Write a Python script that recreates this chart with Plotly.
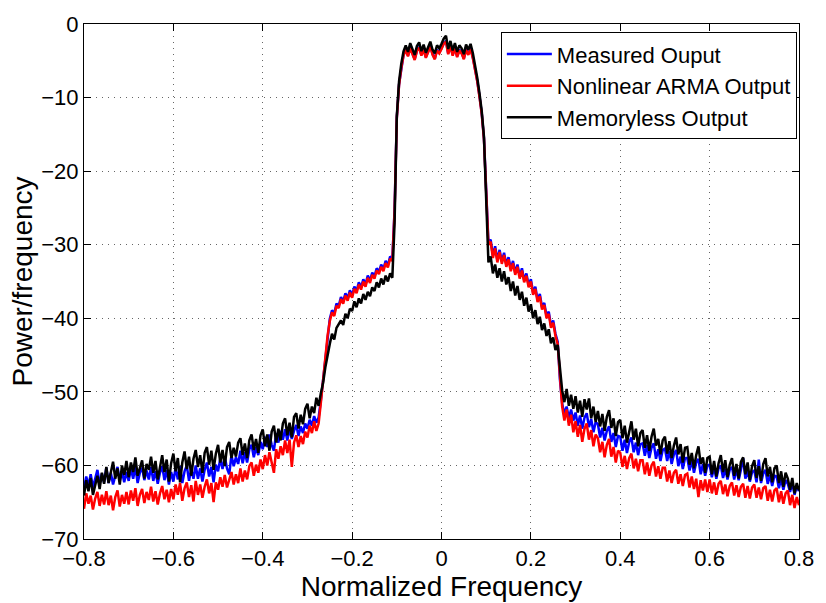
import numpy as np
import plotly.graph_objects as go

# Frequency grid: -0.8 .. 0.8 in steps of 0.005 (321 samples)
freq_start, freq_step, n_pts = -0.8, 0.005, 321
freq = np.round(freq_start + freq_step * np.arange(n_pts), 4)

# Values (dB), one row per 0.05 of frequency
memoryless = [
    -64.1, -62.0, -63.5, -61.7, -64.0, -62.6, -61.4, -63.2, -61.0, -62.5,
    -60.2, -62.4, -60.9, -59.5, -61.8, -60.4, -62.6, -60.0, -61.3, -59.4,
    -61.6, -59.6, -60.9, -58.9, -61.4, -60.2, -59.3, -61.8, -59.8, -60.6,
    -58.8, -61.0, -59.4, -61.9, -60.3, -58.6, -60.9, -59.2, -62.2, -59.7,
    -58.4, -60.8, -59.0, -62.3, -59.6, -58.1, -60.5, -58.8, -61.4, -59.1,
    -57.9, -60.2, -58.6, -61.0, -58.3, -57.5, -59.9, -58.0, -60.6, -58.4,
    -57.2, -59.6, -57.9, -60.1, -57.5, -56.8, -59.0, -57.6, -58.8, -56.9,
    -56.3, -58.6, -57.0, -59.0, -56.6, -55.8, -57.9, -56.4, -58.3, -55.9,
    -55.1, -57.4, -55.8, -58.0, -55.4, -54.6, -56.9, -55.0, -56.6, -54.3,
    -53.6, -55.9, -54.2, -56.2, -53.4, -52.9, -55.0, -53.1, -54.4, -52.3,
    -51.6, -53.6, -52.0, -52.9, -50.8, -51.9, -50.2, -48.8, -46.7, -44.9,
    -43.5, -42.1, -42.9, -41.3, -40.7, -40.3, -40.9, -39.4, -40.0, -38.7,
    -39.0, -37.7, -38.5, -37.3, -38.0, -36.7, -37.5, -36.4, -37.0, -35.8,
    -36.3, -35.1, -35.8, -34.6, -35.4, -34.2, -35.0, -33.9, -34.5, -27.0,
    -12.5, -7.8, -5.4, -3.7, -2.9, -3.8, -2.6, -3.4, -4.2, -3.0,
    -2.5, -3.7, -2.8, -3.9, -3.1, -2.4, -3.5, -4.0, -2.9, -3.3,
    -2.7, -2.0, -1.6, -3.4, -2.3, -3.6, -2.6, -3.8, -2.9, -3.3,
    -4.1, -2.8, -3.5, -2.7, -3.9, -5.4, -7.3, -9.4, -11.8, -15.3,
    -23.0, -32.4, -31.6, -33.9, -32.7, -34.5, -33.2, -35.0, -33.6, -35.4,
    -34.4, -36.3, -35.0, -36.9, -35.6, -37.5, -36.4, -38.3, -37.2, -39.1,
    -38.1, -40.0, -38.9, -40.8, -39.8, -41.6, -40.7, -42.4, -41.5, -43.4,
    -42.6, -44.3, -43.6, -46.4, -49.8, -51.4, -49.6, -51.9, -50.4, -52.3,
    -50.6, -52.8, -51.2, -53.4, -51.0, -52.4, -50.9, -53.6, -52.0, -54.1,
    -52.6, -54.7, -53.0, -55.3, -53.4, -52.5, -54.9, -53.6, -56.0, -54.1,
    -53.8, -56.3, -54.6, -56.9, -55.2, -54.0, -56.5, -55.0, -57.4, -55.6,
    -55.2, -57.6, -55.9, -58.0, -56.1, -55.0, -57.3, -56.4, -58.5, -56.6,
    -56.1, -58.4, -56.7, -59.0, -57.3, -56.2, -58.5, -57.1, -59.6, -57.6,
    -57.5, -59.9, -58.3, -60.4, -58.6, -57.4, -59.8, -58.9, -61.0, -59.0,
    -58.8, -61.2, -59.4, -61.5, -59.7, -58.6, -60.9, -59.3, -61.6, -59.9,
    -59.0, -61.4, -59.8, -61.8, -59.5, -58.9, -61.2, -59.6, -62.0, -60.1,
    -59.3, -61.7, -60.1, -62.1, -59.8, -59.0, -61.5, -60.2, -62.3, -60.4,
    -60.0, -62.4, -60.8, -62.9, -61.0, -61.8, -63.3, -61.7, -63.8, -62.4,
    -63.4,
]

arma = [
    -65.9, -63.8, -65.2, -64.1, -66.0, -64.5, -63.6, -65.5, -64.0, -65.3,
    -63.5, -65.4, -64.1, -66.1, -64.3, -63.4, -65.6, -64.0, -65.2, -63.6,
    -65.3, -63.4, -64.8, -63.1, -65.5, -64.0, -63.2, -65.1, -63.6, -64.7,
    -62.9, -64.9, -63.5, -65.3, -63.8, -62.8, -64.6, -63.3, -65.0, -63.2,
    -64.6, -62.6, -64.0, -62.4, -64.8, -63.1, -62.3, -64.3, -62.7, -64.9,
    -62.1, -64.0, -62.6, -64.4, -62.9, -61.9, -63.8, -62.4, -65.0, -62.3,
    -63.3, -61.6, -62.9, -61.3, -63.0, -62.0, -60.9, -62.6, -61.2, -62.4,
    -60.4, -62.2, -60.7, -61.9, -60.1, -59.6, -61.4, -59.9, -61.0, -59.2,
    -60.5, -58.6, -60.0, -58.2, -59.6, -61.0, -57.8, -59.1, -57.4, -58.6,
    -56.6, -58.3, -56.5, -60.2, -56.9, -55.9, -57.5, -56.0, -57.1, -55.4,
    -56.2, -54.6, -55.6, -54.0, -55.3, -54.3, -51.5, -48.5, -45.3, -42.4,
    -40.4, -39.2, -39.7, -38.3, -38.6, -37.4, -38.0, -36.9, -37.6, -36.5,
    -37.2, -36.0, -36.6, -35.4, -36.1, -35.0, -35.7, -34.5, -35.2, -34.1,
    -34.6, -33.5, -34.0, -33.0, -33.6, -32.5, -33.1, -31.9, -32.2, -25.5,
    -12.8, -8.3, -6.0, -4.3, -3.5, -4.4, -3.3, -4.0, -4.9, -3.7,
    -3.2, -4.3, -3.5, -4.6, -3.8, -3.1, -4.2, -4.8, -3.6, -4.0,
    -3.4, -2.7, -2.4, -4.1, -3.0, -4.3, -3.3, -4.5, -3.6, -4.0,
    -4.8, -3.5, -4.2, -3.4, -4.6, -6.0, -7.8, -9.9, -12.2, -15.6,
    -22.5, -30.0, -29.6, -31.8, -30.5, -32.4, -31.0, -32.6, -31.4, -33.0,
    -32.0, -33.6, -32.5, -34.1, -33.0, -34.6, -33.5, -35.1, -34.2, -35.8,
    -35.0, -36.8, -36.0, -37.8, -37.0, -38.8, -38.2, -40.0, -39.4, -41.3,
    -40.6, -42.4, -43.5, -48.5, -52.0, -53.9, -52.4, -54.6, -53.1, -55.5,
    -54.0, -56.1, -54.5, -56.8, -55.0, -54.3, -56.5, -55.2, -57.4, -55.8,
    -56.3, -58.2, -56.8, -58.9, -57.2, -56.4, -58.8, -57.5, -59.6, -58.0,
    -58.3, -60.2, -58.7, -60.5, -59.0, -58.4, -60.4, -59.1, -60.8, -59.3,
    -59.3, -61.2, -59.6, -61.4, -60.0, -59.5, -61.5, -60.1, -61.8, -60.3,
    -60.3, -62.2, -60.7, -62.4, -61.0, -60.6, -62.5, -61.2, -62.8, -61.3,
    -61.1, -63.0, -61.5, -63.2, -61.8, -64.3, -62.0, -63.4, -61.9, -63.6,
    -61.9, -63.8, -62.3, -64.0, -62.5, -62.1, -63.9, -62.6, -64.2, -62.8,
    -62.3, -64.1, -62.7, -64.3, -62.9, -62.5, -64.4, -62.8, -64.5, -63.0,
    -62.6, -64.4, -63.0, -64.6, -63.1, -62.8, -64.8, -63.3, -64.9, -63.4,
    -63.1, -65.0, -63.5, -65.2, -63.8, -63.4, -65.4, -64.0, -65.8, -64.3,
    -65.4,
]

measured = [
    -63.2, -61.5, -62.8, -61.2, -63.0, -61.8, -60.6, -62.5, -61.1, -62.3,
    -60.3, -62.4, -61.0, -62.6, -61.2, -60.2, -62.1, -60.8, -62.3, -60.9,
    -62.1, -60.4, -61.8, -60.2, -62.4, -61.0, -60.3, -62.0, -60.7, -61.9,
    -60.2, -62.1, -60.8, -62.5, -61.0, -60.1, -62.0, -60.6, -62.6, -60.9,
    -62.2, -60.3, -61.9, -60.1, -62.4, -60.8, -60.0, -62.1, -60.5, -61.8,
    -60.0, -61.8, -60.4, -62.2, -60.6, -59.6, -61.5, -60.2, -62.3, -59.9,
    -60.8, -59.1, -60.5, -58.8, -60.4, -61.2, -58.6, -60.1, -58.9, -59.8,
    -58.0, -59.7, -58.2, -59.6, -57.8, -57.2, -58.9, -57.5, -58.6, -56.8,
    -57.8, -56.1, -57.5, -55.8, -57.2, -58.0, -55.6, -56.9, -55.3, -56.5,
    -55.1, -56.6, -55.0, -56.4, -55.3, -54.5, -56.0, -54.7, -55.6, -54.3,
    -55.0, -53.8, -54.6, -53.3, -54.2, -53.5, -51.2, -48.3, -45.1, -42.2,
    -40.1, -38.9, -39.4, -38.0, -38.3, -37.1, -37.7, -36.6, -37.3, -36.2,
    -36.9, -35.7, -36.3, -35.1, -35.8, -34.7, -35.4, -34.2, -34.9, -33.8,
    -34.3, -33.2, -33.7, -32.7, -33.3, -32.2, -32.8, -31.6, -31.9, -25.3,
    -12.7, -8.2, -5.9, -4.2, -3.4, -4.3, -3.2, -3.9, -4.8, -3.6,
    -3.1, -4.2, -3.4, -4.5, -3.7, -3.0, -4.1, -4.7, -3.5, -3.9,
    -3.3, -2.6, -2.3, -4.0, -2.9, -4.2, -3.2, -4.4, -3.5, -3.9,
    -4.7, -3.4, -4.1, -3.3, -4.5, -5.9, -7.7, -9.8, -12.1, -15.5,
    -22.4, -29.7, -29.3, -31.5, -30.2, -32.1, -30.7, -32.3, -31.1, -32.7,
    -31.7, -33.3, -32.2, -33.8, -32.7, -34.3, -33.2, -34.8, -33.9, -35.5,
    -34.7, -36.5, -35.7, -37.5, -36.7, -38.5, -37.9, -39.7, -39.1, -41.0,
    -40.3, -42.1, -43.2, -48.3, -51.6, -53.0, -52.0, -53.6, -52.4, -53.9,
    -52.8, -54.6, -53.2, -55.0, -53.5, -52.9, -54.8, -53.7, -55.5, -54.1,
    -54.4, -56.2, -54.9, -56.6, -55.3, -54.7, -56.8, -55.6, -57.5, -56.0,
    -56.1, -58.0, -56.5, -58.3, -56.8, -56.2, -58.2, -56.9, -58.6, -57.1,
    -57.0, -58.7, -57.2, -59.0, -57.6, -57.0, -59.1, -57.8, -59.4, -57.9,
    -57.7, -59.4, -58.0, -59.8, -58.5, -57.9, -60.1, -58.8, -60.5, -59.0,
    -59.0, -60.7, -59.3, -61.0, -59.6, -59.1, -61.2, -59.8, -61.4, -60.0,
    -59.9, -61.6, -60.2, -61.8, -60.4, -60.0, -61.7, -60.5, -61.9, -60.6,
    -60.2, -61.9, -60.5, -62.0, -60.6, -59.0, -61.8, -60.8, -62.2, -60.9,
    -60.7, -62.3, -59.2, -62.4, -61.1, -60.6, -62.5, -61.3, -62.8, -61.4,
    -61.5, -63.1, -61.8, -63.3, -62.0, -62.5, -63.6, -62.3, -64.0, -62.8,
    -63.5,
]

series_names = ["Measured Ouput", "Nonlinear ARMA Output", "Memoryless Output"]
series_colors = ["#0000FF", "#FF0000", "#000000"]
series_values = [measured, arma, memoryless]

x_tickvals = [-0.8, -0.6, -0.4, -0.2, 0, 0.2, 0.4, 0.6, 0.8]
x_ticktext = ["\u22120.8", "\u22120.6", "\u22120.4", "\u22120.2", "0", "0.2", "0.4", "0.6", "0.8"]
y_tickvals = [0, -10, -20, -30, -40, -50, -60, -70]
y_ticktext = ["0", "\u221210", "\u221220", "\u221230", "\u221240", "\u221250", "\u221260", "\u221270"]

FONT = "Liberation Sans, Arial, Helvetica, sans-serif"

fig = go.Figure()
for name, color, vals in zip(series_names, series_colors, series_values):
    n = min(len(vals), n_pts)
    fig.add_trace(go.Scatter(
        x=freq[:n], y=vals[:n], mode="lines", name=name,
        line=dict(color=color, width=2.5),
    ))

axis_common = dict(
    showline=True, linecolor="black", linewidth=1, mirror="ticks",
    ticks="inside", ticklen=7, tickcolor="black", tickwidth=1,
    showgrid=True, gridcolor="rgba(0,0,0,0.6)", gridwidth=1, griddash="1px,5px",
    zeroline=False, tickfont=dict(family=FONT, size=22, color="black"),
    tickmode="array",
)

fig.update_layout(
    width=826, height=603,
    margin=dict(l=84, r=18, t=16, b=60),
    paper_bgcolor="white", plot_bgcolor="white",
    font=dict(family=FONT, color="black"),
    xaxis=dict(range=[-0.8, 0.8], tickvals=x_tickvals, ticktext=x_ticktext,
               title=dict(text="Normalized Frequency", font=dict(size=28), standoff=0),
               **axis_common),
    yaxis=dict(range=[-70, 0], tickvals=y_tickvals, ticktext=y_ticktext,
               title=dict(text="Power/frequency", font=dict(size=28), standoff=0),
               **axis_common),
    legend=dict(x=0.997, y=0.984, xanchor="right", yanchor="top",
                bgcolor="white", bordercolor="black", borderwidth=1,
                font=dict(family=FONT, size=22, color="black"),
                tracegroupgap=0, itemwidth=45),
    showlegend=True,
)

fig.write_html("out.html")
